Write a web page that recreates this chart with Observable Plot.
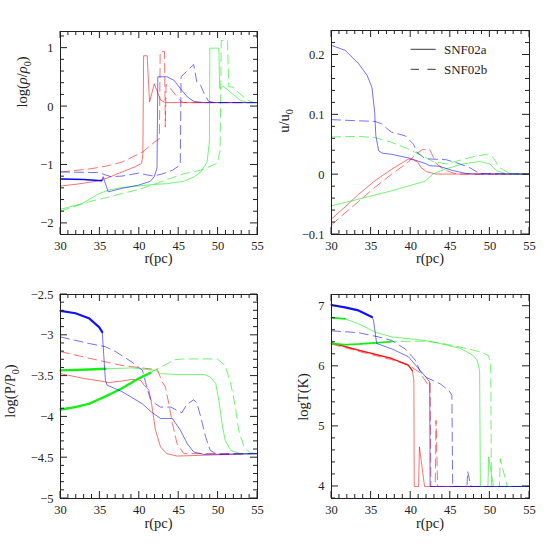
<!DOCTYPE html>
<html><head><meta charset="utf-8">
<script src="https://cdn.jsdelivr.net/npm/d3@7"></script>
<script src="https://cdn.jsdelivr.net/npm/@observablehq/plot@0.6"></script>
<style>
body{margin:0;background:#fff;}
#wrap{position:relative;width:558px;height:558px;background:#fff;}
.panel{position:absolute;width:279px;height:279px;}
</style></head><body><div id="wrap"></div>
<script>
// ---------- tick values ----------
const rTicks = [30, 35, 40, 45, 50, 55];
const rhoTicks = [-2, -1, 0, 1];
const uTicks = [-0.1, 0, 0.1, 0.2];
const pTicks = [-5, -4.5, -4, -3.5, -3, -2.5];
const tTicks = [4, 5, 6, 7];

// ---------- panel 1: log(rho/rho0) ----------
const rhoA_blue = [[30,-1.24],[33,-1.25],[35.25,-1.27],[35.4,-1.2],[36.05,-1.46],[37.8,-1.40],[39.9,-1.345],[41.4,-1.28],[41.9,-1.2],[42.25,-1.05],[42.35,0.51],[43.5,0.51],[44.4,0.45],[45.2,0.31],[46.1,0.165],[46.9,0.09],[48.2,0.068],[55,0.068]];
const rhoB_blue = [[30,-1.12],[34.9,-1.13],[35.7,-1.17],[36.4,-1.2],[37.8,-1.19],[39.9,-1.14],[41.0,-1.17],[41.8,-1.19],[43.0,-1.15],[44.2,-1.09],[45.2,-1.0],[45.3,0.51],[46.9,0.72],[47.3,0.42],[47.8,0.36],[48.3,0.2],[48.8,0.09],[49.5,0.068],[55,0.068]];
const rhoA_red = [[30,-1.36],[32,-1.33],[34.5,-1.28],[36,-1.22],[37.8,-1.12],[39.5,-1.03],[40.3,-0.97],[40.45,-0.83],[40.55,0.87],[41.0,0.87],[41.3,0.08],[41.9,0.39],[42.3,0.25],[42.7,0.11],[43.3,0.068],[55,0.068]];
const rhoB_red = [[30,-1.12],[33.6,-1.07],[35.8,-1.02],[37.8,-0.95],[40.4,-0.78],[42.0,-0.6],[42.55,-0.55],[42.65,0.94],[43.2,0.94],[43.3,-0.35],[43.4,0.38],[44.0,0.3],[44.6,0.2],[45.2,0.1],[45.6,0.068],[55,0.068]];
const rhoA_green = [[30,-1.76],[32.75,-1.66],[34.9,-1.49],[36.1,-1.43],[37.8,-1.385],[39.9,-1.36],[41.6,-1.335],[43.5,-1.32],[45.65,-1.28],[47.0,-1.2],[47.8,-1.12],[48.6,-0.95],[48.9,-0.6],[48.95,1.0],[50.1,1.0],[50.2,0.31],[50.65,0.35],[51.8,0.22],[52.8,0.11],[53.7,0.068],[55,0.068]];
const rhoB_green = [[30,-1.79],[33.6,-1.63],[35.8,-1.56],[37.8,-1.49],[39.9,-1.42],[41.6,-1.345],[43.5,-1.25],[45.65,-1.15],[47.8,-1.09],[49.9,-0.97],[50.25,-0.75],[50.4,1.13],[51.2,1.13],[51.35,0.34],[52.0,0.33],[52.5,0.25],[53.7,0.11],[54.5,0.07],[55,0.068]];

// ---------- panel 2: u/u0 ----------
const uA_blue = [[30,0.216],[31.7,0.208],[33.4,0.186],[34.5,0.166],[35.1,0.146],[35.45,0.105],[35.6,0.065],[35.95,0.040],[36.4,0.036],[37.6,0.034],[39.7,0.028],[41.8,0.019],[42.4,0.015],[43.6,0.014],[45.3,0.007],[47.0,0.002],[48.5,0.001],[55,0.001]];
const uB_blue = [[30,0.092],[33.5,0.09],[35.5,0.089],[36.35,0.085],[37.0,0.077],[37.6,0.071],[39.3,0.065],[40.35,0.051],[40.8,0.037],[41.8,0.027],[42.8,0.026],[44.5,0.025],[46.2,0.018],[47.4,0.012],[48.7,0.002],[55,0.001]];
const uA_red = [[30,-0.074],[31.7,-0.054],[33.4,-0.033],[35.5,-0.01],[37.6,0.009],[39.7,0.026],[40.3,0.025],[40.9,0.021],[41.3,0.012],[42.0,0.005],[43.2,0.001],[55,0.001]];
const uB_red = [[30,-0.084],[31.7,-0.064],[33.4,-0.045],[35.5,-0.021],[37.6,0.001],[39.7,0.021],[40.7,0.035],[41.5,0.042],[42.4,0.042],[42.8,0.031],[43.2,0.019],[44.1,0.009],[45.3,0.003],[46.0,0.001],[55,0.001]];
const uA_green = [[30,-0.052],[33.4,-0.041],[37.6,-0.027],[41.8,-0.011],[42.8,0.001],[44.5,0.01],[46.6,0.018],[48.7,0.022],[50.0,0.018],[50.8,0.007],[52.1,0.001],[55,0.001]];
const uB_green = [[30,0.063],[33.4,0.064],[35.5,0.062],[37.6,0.054],[39.7,0.043],[41.8,0.029],[42.8,0.022],[44.5,0.018],[46.2,0.024],[47.9,0.03],[49.6,0.034],[50.4,0.029],[51.2,0.012],[52.5,0.002],[55,0.001]];

// ---------- panel 3: log(P/P0) ----------
const pA_blue = [[30,-2.70],[31.9,-2.73],[33.6,-2.79],[34.9,-2.90],[35.3,-2.96],[35.7,-3.55],[35.9,-3.61],[37.8,-3.69],[40.4,-3.84],[41.4,-3.93],[42.7,-4.02],[44.2,-4.02],[45.2,-4.16],[46.1,-4.33],[46.9,-4.43],[48.2,-4.46],[55,-4.45]];
const pB_blue = [[30,-3.02],[33.6,-3.10],[35.7,-3.14],[37.0,-3.2],[39.1,-3.33],[40.4,-3.43],[41.0,-3.65],[41.4,-3.78],[42.05,-3.84],[42.7,-3.88],[44.0,-3.88],[45.0,-3.93],[45.4,-3.95],[46.0,-3.85],[46.9,-3.79],[47.3,-3.83],[47.8,-4.0],[48.4,-4.24],[49.0,-4.41],[49.9,-4.46],[55,-4.45]];
const pA_red = [[30,-3.47],[33,-3.53],[35.7,-3.57],[36.1,-3.58],[37.8,-3.56],[39.1,-3.54],[40.15,-3.55],[40.6,-3.61],[41.2,-3.67],[41.5,-3.8],[42.05,-4.16],[42.7,-4.37],[43.5,-4.45],[44.8,-4.48],[48,-4.47],[55,-4.45]];
const pB_red = [[30,-3.20],[33.6,-3.28],[37.8,-3.37],[41.2,-3.41],[42.3,-3.42],[42.9,-3.57],[43.3,-3.63],[43.75,-3.84],[44.2,-4.08],[44.8,-4.33],[45.65,-4.45],[55,-4.45]];
const pA_green = [[30,-3.43],[33.6,-3.42],[35.7,-3.41],[39.1,-3.40],[42.05,-3.43],[42.7,-3.47],[44.8,-3.48],[48.2,-3.48],[49.0,-3.51],[49.7,-3.59],[50.1,-3.80],[50.5,-4.08],[50.9,-4.29],[51.6,-4.41],[52.8,-4.45],[55,-4.45]];
const pB_green = [[30,-3.91],[31.9,-3.88],[33.6,-3.84],[35.7,-3.75],[37.8,-3.65],[39.9,-3.53],[41.42,-3.46],[42.05,-3.42],[42.7,-3.39],[43.5,-3.35],[44.4,-3.30],[45.65,-3.29],[49.9,-3.29],[50.9,-3.37],[51.6,-3.59],[52.2,-3.88],[52.6,-4.16],[53.3,-4.37],[54.1,-4.44],[55,-4.45]];

// ---------- panel 4: logT(K) ----------
const tA_blue = [[30,7.02],[31.7,6.98],[33.4,6.93],[35.1,6.82],[35.3,6.77],[35.7,6.38],[37.6,6.29],[39.7,6.16],[41.2,5.93],[42.04,5.80],[42.4,5.74],[42.45,4.0],[55,4.0]];
const tB_blue = [[30,6.59],[33.4,6.56],[35.9,6.49],[37.6,6.43],[39.3,6.29],[40.6,6.10],[41.2,5.91],[42.04,5.81],[43.7,5.71],[44.8,5.60],[45.2,5.52],[45.3,4.0],[47.1,4.0],[47.2,4.25],[47.6,4.0],[55,4.0]];
const tA_red = [[30,6.39],[33.4,6.27],[37.6,6.13],[39.7,6.02],[40.2,5.93],[40.4,5.77],[40.45,4.0],[41.0,4.0],[41.1,4.66],[41.75,4.0],[55,4.0]];
const tB_red = [[30,6.37],[33.4,6.25],[37.6,6.11],[39.7,6.02],[41.0,5.91],[41.8,5.77],[42.25,5.68],[42.45,5.72],[42.55,4.0],[43.1,4.0],[43.2,5.1],[43.4,4.0],[55,4.0]];
const tA_green = [[30,6.81],[31.7,6.79],[33.4,6.71],[35.5,6.57],[37.6,6.49],[41.8,6.43],[43.7,6.38],[46.25,6.30],[47.9,6.18],[48.4,6.10],[48.7,5.93],[48.8,4.0],[49.75,4.0],[49.85,4.49],[50.45,4.0],[55,4.0]];
const tB_green = [[30,6.38],[31.7,6.36],[33.4,6.37],[37.6,6.41],[41.8,6.42],[43.7,6.39],[46.25,6.32],[48.8,6.24],[49.8,6.18],[50.1,6.07],[50.2,4.0],[51.2,4.0],[51.3,4.46],[52.2,4.0],[55,4.0]];

// ---------- legend ----------
const legendNames = ["SNF02a", "SNF02b"];

// ---------- drawing ----------
const FONT = "Liberation Serif, Times New Roman, serif";
const INK = "#222";
const BLUE = "#0000ff", RED = "#ff0000", GREEN = "#00ee00";
const DASH = "9,5";
const fmt = d => (d < 0 ? "\u2212" : "") + Math.abs(d);
const minor = (lo, hi, step, dom) => d3.range(Math.round(lo/step), Math.round(hi/step) + 1)
  .map(i => +(i * step).toFixed(4)).filter(v => v >= dom[0] - 1e-9 && v <= dom[1] + 1e-9);

function addText(svg, parts, x, y, rotate, size, anchor = "middle") {
  const t = svg.append("text")
    .attr("transform", `translate(${x},${y})` + (rotate ? " rotate(-90)" : ""))
    .attr("text-anchor", anchor).attr("font-family", FONT)
    .attr("font-size", size).attr("fill", INK);
  let shifted = 0;
  for (const [s, k] of parts) {
    const ts = t.append("tspan").text(s);
    if (k === "italic") ts.attr("font-style", "italic");
    const want = k === "sub" ? size * 0.3 : 0;
    if (want !== shifted) { ts.attr("dy", want - shifted); shifted = want; }
    if (k === "sub") ts.attr("font-size", size * 0.7);
  }
  return t;
}

// series: [data, colour, dashed, thick-until r (dense plotting at small r), thick width]
const panels = [
  {left: 0, top: 0, mL: 60, mR: 22, mT: 31, mB: 45, yDomain: [-2.19, 1.285], yMaj: rhoTicks, yStep: 0.2,
   series: [[rhoA_red, RED, false], [rhoB_red, RED, true], [rhoA_green, GREEN, false], [rhoB_green, GREEN, true], [rhoA_blue, BLUE, false, 35.25, 1.5], [rhoB_blue, BLUE, true]],
   ylabel: [["log("], ["\u03c1", "italic"], ["/"], ["\u03c1", "italic"], ["0", "sub"], [")"]], yl: [27, 82], xl: [158.5, 263]},
  {left: 279, top: 0, mL: 52, mR: 29, mT: 30, mB: 45, yDomain: [-0.1, 0.241], yMaj: uTicks, yStep: 0.02,
   series: [[uA_red, RED, false], [uB_red, RED, true], [uA_green, GREEN, false], [uB_green, GREEN, true], [uA_blue, BLUE, false], [uB_blue, BLUE, true]],
   ylabel: [["u/u"], ["0", "sub"]], yl: [10, 121], xl: [151, 263], legend: true},
  {left: 0, top: 279, mL: 60, mR: 22, mT: 15, mB: 60, yDomain: [-5, -2.5], yMaj: pTicks, yStep: 0.1,
   series: [[pA_red, RED, false], [pB_red, RED, true], [pA_green, GREEN, false, 36, 2.4], [pB_green, GREEN, true, 41.5, 2.4], [pA_blue, BLUE, false, 35.3, 2.2], [pB_blue, BLUE, true]],
   ylabel: [["log(P/P"], ["0", "sub"], [")"]], yl: [15, 112], xl: [158.5, 249]},
  {left: 279, top: 279, mL: 52, mR: 29, mT: 15, mB: 60, yDomain: [3.8, 7.195], yMaj: tTicks, yStep: 0.2,
   series: [[tA_red, RED, false, 40.2, 1.3], [tB_red, RED, true], [tA_green, GREEN, false, 31.7, 1.8], [tB_green, GREEN, true, 37.6, 1.8], [tA_blue, BLUE, false, 35.1, 2.2], [tB_blue, BLUE, true]],
   ylabel: [["logT(K)"]], yl: [29, 118], xl: [151, 249]}
];

const wrap = document.getElementById("wrap");
for (const p of panels) {
  const xDom = [30, 55];
  const W = 279 - p.mL - p.mR, H = 279 - p.mT - p.mB;
  const xMin = minor(30, 55, 1, xDom);
  const yMin = minor(p.yDomain[0], p.yDomain[1], p.yStep, p.yDomain);
  const marks = [];
  for (const [data, color, dashed, thickTo, thickW] of p.series) {
    marks.push(Plot.line(data, {x: d => d[0], y: d => d[1], stroke: color, strokeWidth: 0.8,
      strokeOpacity: 0.7, strokeDasharray: dashed ? DASH : null}));
    if (thickTo) {
      marks.push(Plot.line(data.filter(d => d[0] <= thickTo), {x: d => d[0], y: d => d[1], stroke: color,
        strokeWidth: thickW, strokeOpacity: 0.9, strokeDasharray: dashed ? "2,1.2" : null}));
    }
  }
  marks.push(
    Plot.axisX(rTicks, {anchor: "bottom", tickSize: 0, tickPadding: 7, tickFormat: fmt, label: null, fill: INK, fontSize: 12.5}),
    Plot.axisY(p.yMaj, {anchor: "left", tickSize: 0, tickPadding: 7, tickFormat: fmt, label: null, fill: INK, fontSize: 12.5}),
    Plot.frame({stroke: INK, strokeWidth: 1})
  );
  const svgEl = Plot.plot({
    width: 279, height: 279,
    marginLeft: p.mL, marginRight: p.mR, marginTop: p.mT, marginBottom: p.mB,
    x: {domain: xDom}, y: {domain: p.yDomain},
    style: {fontFamily: FONT, fontSize: "12.5px", background: "transparent", overflow: "visible", color: INK},
    marks
  });
  const div = document.createElement("div");
  div.className = "panel";
  div.style.left = p.left + "px";
  div.style.top = p.top + "px";
  div.appendChild(svgEl);
  wrap.appendChild(div);
  const svg = d3.select(svgEl);

  // inward ticks on all four sides, placed through the plot's own scales
  let sx = null, sy = null;
  try { sx = svgEl.scale("x"); sy = svgEl.scale("y"); } catch (e) {}
  const X = v => (sx && sx.apply) ? sx.apply(v) : p.mL + (v - xDom[0]) / (xDom[1] - xDom[0]) * W;
  const Y = v => (sy && sy.apply) ? sy.apply(v) : p.mT + (p.yDomain[1] - v) / (p.yDomain[1] - p.yDomain[0]) * H;
  const top = p.mT, bottom = 279 - p.mB, left = p.mL, right = 279 - p.mR;
  const tg = svg.append("g").attr("stroke", INK).attr("stroke-width", 1).attr("fill", "none");
  const tick = (x1, y1, x2, y2) => tg.append("line").attr("x1", x1).attr("y1", y1).attr("x2", x2).attr("y2", y2);
  for (const v of xMin) {
    const len = rTicks.includes(v) ? 7 : 4, x = X(v);
    tick(x, bottom, x, bottom - len);
    tick(x, top, x, top + len);
  }
  for (const v of yMin.concat(p.yMaj.filter(v => !yMin.includes(v)))) {
    const len = p.yMaj.includes(v) ? 7 : 4, y = Y(v);
    tick(left, y, left + len, y);
    tick(right, y, right - len, y);
  }

  addText(svg, p.ylabel, p.yl[0], p.yl[1], true, 14.5);
  addText(svg, [["r(pc)"]], p.xl[0], p.xl[1], false, 14.5);
  if (p.legend) {
    const g = svg.append("g");
    g.append("line").attr("x1", 131.7).attr("x2", 156.7).attr("y1", 49.3).attr("y2", 49.3).attr("stroke", INK).attr("stroke-width", 0.9);
    g.append("line").attr("x1", 131.7).attr("x2", 156.7).attr("y1", 69.3).attr("y2", 69.3).attr("stroke", INK).attr("stroke-width", 0.9).attr("stroke-dasharray", "8.3,8.4");
    addText(g, [[legendNames[0]]], 165, 53.5, false, 13, "start");
    addText(g, [[legendNames[1]]], 165, 73.5, false, 13, "start");
  }
}
</script></body></html>
